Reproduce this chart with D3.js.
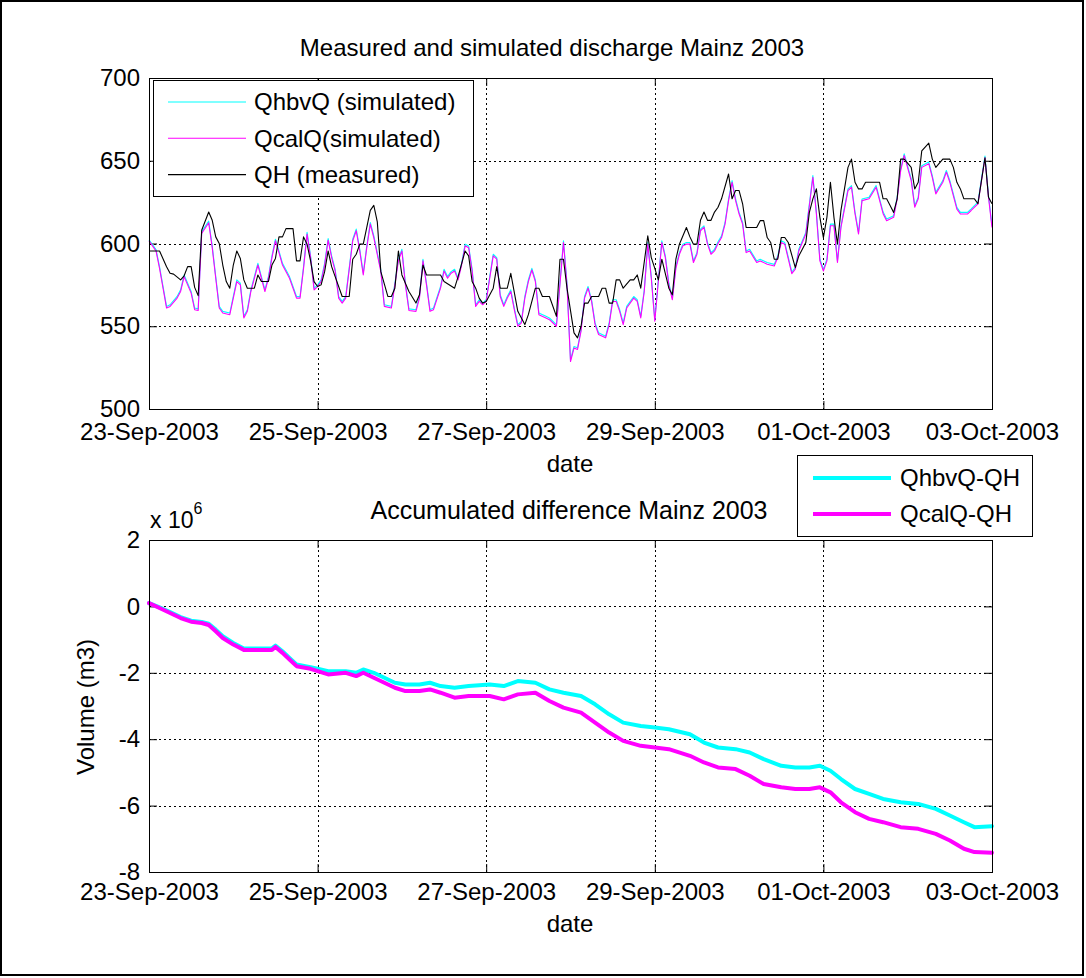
<!DOCTYPE html>
<html>
<head>
<meta charset="utf-8">
<script src="https://cdn.jsdelivr.net/npm/d3@7"></script>
<style>
  html, body { margin: 0; padding: 0; background: #fff; }
  svg text { font-family: "Liberation Sans", Arial, Helvetica, sans-serif; fill: #000; }
</style>
</head>
<body>
<svg id="fig" width="1086" height="978"></svg>
<script>
// ---- data: hours after 23-Sep-2003 00:00 and discharge (m3/s) ----
const qhHours = [0,3,5,6,7,9,10,11,12,13,14,15,17,18,19,20,21,22,23,24,25,26,27,28,30,31,32,34,35,36,37,38,39,41,42,43,44,45,46,47,48,49,50,51,52,53,55,57,58,59,60,61,62,63,64,65,66,68,69,70,71,72,74,76,77,78,79,83,84,87,88,90,91,92,93,94,95,96,98,99,100,102,103,105,107,108,110,111,112,114,116,117,118,119,121,122,123,124,125,126,128,129,130,131,132,133,134,135,137,138,139,140,142,143,144,145,146,148,149,150,151,153,154,155,156,157,158,159,160,161,162,163,165,166,167,168,169,170,173,174,175,176,177,178,179,180,181,182,184,185,187,188,189,190,191,192,193,194,195,196,197,199,200,201,202,203,204,208,209,210,211,212,213,214,215,217,218,219,220,222,223,224,226,228,229,230,231,232,235,236,237,238,239,240];
const qhValues = [595.5,595.5,586,582,581.5,578,580.5,586,586,573.5,568.5,608,619,614,604,600,587,577,573,587,595.5,591,578,573,573,581,577,577,587,591,604,604,609,609,589.5,589.5,604,599.6,589.5,577,574,575,583,595.5,586,580,568,568,590.5,593.5,599.6,599.6,609.7,620,623,613,583,568,568,573,595.5,581,571,564,569,587,581,581,577,573,580,595.5,592.5,577,573,567,564,565,573,586,573,573,582,559,551,557,573,573,568,568,556,590.5,590.5,573,546,543,550,564,564,568,568,573,573,564,564,578,578,573,578,578,581,573,604.7,591.5,585,578,590.5,573,569,590.5,599.6,609.7,604,599.6,599.6,614,619,614,614,619,621.9,627,642,627,632,632,624,609.7,609.7,613.8,613.8,603.6,600.6,590.5,590.5,603.6,603.6,600.6,585.4,592.5,600.6,618.8,627,633,615.8,603.6,615.8,637,615.8,599.6,620,646,651,637,633,633,637,637,627,627,623,618.8,627,651,651,646,633,637,656,660.7,651,646,651,651,646,637,633,627,627,624,638,651.8,628,624];

const simHours = [0,2,3,4,5,6,8,9,10,12,13,14,15,17,18,19,20,21,23,24,25,26,27,28,29,31,33,34,35,36,37,38,40,42,43,44,45,46,47,48,49,50,51,52,53,54,55,56,58,59,60,61,62,63,64,66,67,69,70,71,72,73,74,76,77,78,79,80,81,83,84,85,86,87,88,89,90,91,92,93,94,95,96,97,98,99,100,101,102,103,104,105,106,107,108,109,110,111,113,114,116,118,119,120,121,122,123,124,125,126,127,128,130,131,132,133,134,135,136,138,139,140,141,142,143,144,145,146,147,148,149,150,151,152,153,154,155,156,157,158,159,160,161,162,163,164,165,166,167,168,169,170,171,173,174,176,178,179,180,181,183,184,185,187,188,189,190,191,192,193,194,195,196,197,199,200,201,202,203,205,207,209,210,212,213,214,215,217,218,219,220,222,223,224,226,227,228,230,231,233,234,236,237,238,239,240];
const qhbvValues = [602.2,596.3,586,574,562,563,568,572,581,571,561,560.5,607,613.5,598.5,580,562,559,558,568,578,576,556,560,572,588,572,580,592.5,602.6,595.5,588,580,568,568,586,606.7,592.5,573,575,578,588,603,592.5,584.4,568,565,568,602.6,608.7,596.5,582,598.5,612.7,604.6,584,563,562,576,590.5,596.5,576,560.5,560,568,590.5,576,560,561,574,584.4,580,583,584.4,579,588,599.6,598.5,584.4,563,566,564,566,580,593.5,591.5,569,563,568,572,561,551,553,568,578,585,578,558,556,555,551,601.6,576,529.7,537.8,537,548,568,574,566,552,546,544,552,566,566,560,552,562,568,566,556,572,600.6,580,554,578,601.6,592.5,576,567,586,594.5,599.6,600.6,600.6,589.5,594.5,608.7,610.7,600.6,594.5,596.5,601,604.6,612.7,626.9,638,626.9,618.8,612.7,595.5,596.5,589.5,590.5,588.5,587.4,592.5,601.6,600.6,582.8,585.5,596.5,606.7,623.8,641,619,590.5,584.4,590.5,611.7,611.7,589.5,610.7,633,635,619,606.7,626.9,628,635,619,614.8,616.8,628,645,654.2,639,622.9,628,647,649.2,641,631,638,644.1,638,621.8,618.8,618.8,620.8,625,639,652.8,629,610.7];
const qcalValues = [601.6,595.5,585,573,561,562,567,571,580,570,560,559.5,606,612.5,597.5,579,561,558,557,567,577,575,555,559,571,587,571,579,591.5,601.6,594.5,587,579,567,567,585,605.7,591.5,572,574,577,587,602,591.5,583.4,567,564,567,601.6,607.7,595.5,581,597.5,611.7,603.6,583,562,561,575,589.5,595.5,575,559.5,559,567,589.5,575,559,560,573,583.4,579,582,583.4,578,587,598.6,597.5,583.4,562,565,563,565,579,592.5,590.5,568,562,567,571,560,550,552,567,577,584,577,557,555,554,550,600.6,575,528.7,536.8,536,547,567,573,565,551,545,543,551,565,565,559,551,561,567,565,555,571,599.6,579,553,577,600.6,591.5,575,566,585,593.5,598.6,599.6,599.6,588.5,593.5,607.7,609.7,599.6,593.5,595.5,600,603.6,611.7,625.9,637,625.9,617.8,611.7,594.5,595.5,588.5,589.5,587.5,586.4,591.5,600.6,599.6,581.8,584.5,595.5,605.7,622.8,640,618,589.5,583.4,589.5,610.7,610.7,588.5,609.7,632,634,618,605.7,625.9,627,634,618,613.8,615.8,627,644,653.2,638,621.9,627,646,648.2,640,630,637,643.1,637,620.8,617.8,617.8,619.8,624,638,651.8,628,609.7];

// accumulated volume difference, in units of 1e6 m3
const accHours = [0,3,6,9,12,15,17,19,21,24,27,31,35,36,38,40,42,46,48,51,56,59,61,64,67,70,73,77,80,83,87,91,97,101,105,110,114,118,123,127,131,135,140,144,148,154,158,162,167,171,175,180,184,188,191,194,197,201,205,209,214,219,224,228,232,235,240];
const accHbv = [0.1,-0.03,-0.17,-0.32,-0.43,-0.47,-0.52,-0.7,-0.9,-1.1,-1.27,-1.27,-1.26,-1.18,-1.35,-1.55,-1.75,-1.83,-1.88,-1.95,-1.95,-2.0,-1.9,-2.0,-2.15,-2.3,-2.35,-2.35,-2.3,-2.4,-2.45,-2.4,-2.35,-2.4,-2.25,-2.3,-2.5,-2.6,-2.7,-2.95,-3.25,-3.5,-3.6,-3.65,-3.7,-3.85,-4.1,-4.25,-4.3,-4.4,-4.6,-4.8,-4.85,-4.85,-4.8,-4.95,-5.2,-5.5,-5.65,-5.8,-5.9,-5.95,-6.1,-6.3,-6.5,-6.65,-6.62];
const accCal = [0.1,-0.05,-0.2,-0.35,-0.46,-0.5,-0.56,-0.75,-0.95,-1.15,-1.31,-1.31,-1.31,-1.22,-1.4,-1.6,-1.8,-1.88,-1.95,-2.05,-2.0,-2.1,-2.0,-2.15,-2.3,-2.45,-2.55,-2.55,-2.5,-2.6,-2.75,-2.7,-2.7,-2.8,-2.65,-2.6,-2.85,-3.05,-3.2,-3.5,-3.8,-4.05,-4.2,-4.25,-4.3,-4.5,-4.7,-4.85,-4.9,-5.1,-5.35,-5.45,-5.5,-5.5,-5.45,-5.6,-5.9,-6.2,-6.4,-6.5,-6.65,-6.7,-6.85,-7.05,-7.3,-7.4,-7.42];

// axis ticks and labels
const dateTickLabels = ["23-Sep-2003","25-Sep-2003","27-Sep-2003","29-Sep-2003","01-Oct-2003","03-Oct-2003"];
const dischargeTicks = [500,550,600,650,700];
const volumeTicks = [-8,-6,-4,-2,0,2];
const volumeTickLabels = ["-8","-6","-4","-2","0","2"];
const topSeriesNames = ["QhbvQ (simulated)","QcalQ(simulated)","QH (measured)"];
const bottomSeriesNames = ["QhbvQ-QH","QcalQ-QH"];
const seriesColors = ["#00ffff","#ff00ff","#000000"];

// ---- drawing ----
const FONT = 24;
const svg = d3.select("#fig");
const t0 = Date.UTC(2003, 8, 23);
const hourToDate = h => new Date(t0 + h * 3600e3);
const parseTick = d3.utcParse("%d-%b-%Y");
const fmtTick = d3.utcFormat("%d-%b-%Y");
const dateTicks = dateTickLabels.map(parseTick);

const left = 149, right = 992;
const x = d3.scaleUtc().domain([hourToDate(0), hourToDate(240)]).range([left, right]);
const yQ = d3.scaleLinear().domain([500, 700]).range([409, 78]);
const yV = d3.scaleLinear().domain([-8, 2]).range([872, 540]);

// figure frame
svg.append("rect").attr("x", 1).attr("y", 1).attr("width", 1082).attr("height", 974)
  .attr("fill", "#fff").attr("stroke", "#000").attr("stroke-width", 2);

function drawPanel(y, yTicks, yFmt, tickPad) {
  const [y0, y1] = y.range();
  const g = svg.append("g");
  // grid
  g.append("g").selectAll("line").data(dateTicks).join("line")
    .attr("x1", d => Math.round(x(d)) + 0.5).attr("x2", d => Math.round(x(d)) + 0.5)
    .attr("y1", y1).attr("y2", y0)
    .attr("stroke", "#000").attr("stroke-width", 1).attr("stroke-dasharray", "2,3");
  g.append("g").selectAll("line").data(yTicks).join("line")
    .attr("x1", left).attr("x2", right)
    .attr("y1", d => Math.round(y(d)) + 0.5).attr("y2", d => Math.round(y(d)) + 0.5)
    .attr("stroke", "#000").attr("stroke-width", 1).attr("stroke-dasharray", "2,3");

  const styleAxis = a => {
    a.attr("font-family", null).attr("font-size", FONT);
    a.select(".domain").remove();
    a.selectAll(".tick line").attr("stroke", "#000");
    a.selectAll(".tick text").attr("fill", "#000");
  };
  g.append("g").attr("transform", `translate(0,${y0})`)
    .call(d3.axisBottom(x).tickValues(dateTicks).tickFormat(fmtTick).tickSizeInner(-8).tickSizeOuter(0).tickPadding(tickPad))
    .call(styleAxis);
  g.append("g").attr("transform", `translate(0,${y1})`)
    .call(d3.axisTop(x).tickValues(dateTicks).tickFormat("").tickSizeInner(-8).tickSizeOuter(0))
    .call(styleAxis);
  g.append("g").attr("transform", `translate(${left},0)`)
    .call(d3.axisLeft(y).tickValues(yTicks).tickFormat(yFmt).tickSizeInner(-8).tickSizeOuter(0).tickPadding(9))
    .call(styleAxis);
  g.append("g").attr("transform", `translate(${right},0)`)
    .call(d3.axisRight(y).tickValues(yTicks).tickFormat("").tickSizeInner(-8).tickSizeOuter(0))
    .call(styleAxis);
  return g;
}

function drawBox(y) {
  const [y0, y1] = y.range();
  svg.append("rect").attr("x", left + 0.5).attr("y", y1 + 0.5)
    .attr("width", right - left).attr("height", y0 - y1)
    .attr("fill", "none").attr("stroke", "#000").attr("stroke-width", 1);
}

const valueLine = y => d3.line().x(d => x(hourToDate(d[0]))).y(d => y(d[1]));

// ---- upper panel: discharge ----
const topPanel = drawPanel(yQ, dischargeTicks, d => String(d), 14);
const topSeries = [
  d3.zip(simHours, qhbvValues),
  d3.zip(simHours, qcalValues),
  d3.zip(qhHours, qhValues)
];
topSeries.forEach((s, i) => {
  topPanel.append("path").datum(s).attr("d", valueLine(yQ))
    .attr("fill", "none").attr("stroke", seriesColors[i]).attr("stroke-width", 1.1)
    .attr("stroke-linejoin", "round");
});
drawBox(yQ);

svg.append("text").attr("x", 552).attr("y", 56).attr("text-anchor", "middle").attr("font-size", FONT)
  .text("Measured and simulated discharge Mainz 2003");
svg.append("text").attr("x", 570).attr("y", 472).attr("text-anchor", "middle").attr("font-size", FONT)
  .text("date");

// legend (upper)
const lg1 = svg.append("g");
lg1.append("rect").attr("x", 153.5).attr("y", 80.5).attr("width", 320).attr("height", 116)
  .attr("fill", "#fff").attr("stroke", "#000");
topSeriesNames.forEach((name, i) => {
  const yy = 102 + i * 36.3;
  lg1.append("line").attr("x1", 168).attr("x2", 246).attr("y1", yy).attr("y2", yy)
    .attr("stroke", seriesColors[i]).attr("stroke-width", 1.1);
  lg1.append("text").attr("x", 254).attr("y", yy).attr("dy", "0.35em").attr("font-size", FONT).text(name);
});

// ---- lower panel: accumulated difference ----
const botPanel = drawPanel(yV, volumeTicks, (d, i) => volumeTickLabels[i], 11);
[d3.zip(accHours, accHbv), d3.zip(accHours, accCal)].forEach((s, i) => {
  botPanel.append("path").datum(s).attr("d", valueLine(yV))
    .attr("fill", "none").attr("stroke", seriesColors[i]).attr("stroke-width", 4)
    .attr("stroke-linejoin", "round").attr("stroke-linecap", "round");
});
drawBox(yV);

svg.append("text").attr("x", 569).attr("y", 519).attr("text-anchor", "middle").attr("font-size", 25)
  .text("Accumulated difference Mainz 2003");
const expo = svg.append("text").attr("x", 150).attr("y", 528).attr("font-size", 23);
expo.append("tspan").text("x 10");
expo.append("tspan").attr("dy", -14).attr("font-size", 16).text("6");
svg.append("text").attr("x", 570).attr("y", 932).attr("text-anchor", "middle").attr("font-size", FONT)
  .text("date");
svg.append("text").attr("transform", "translate(94,707) rotate(-90)").attr("text-anchor", "middle")
  .attr("font-size", FONT).text("Volume (m3)");

// legend (lower)
const lg2 = svg.append("g");
lg2.append("rect").attr("x", 797.5).attr("y", 455.5).attr("width", 235).attr("height", 81)
  .attr("fill", "#fff").attr("stroke", "#000");
bottomSeriesNames.forEach((name, i) => {
  const yy = 478 + i * 36;
  lg2.append("line").attr("x1", 813).attr("x2", 891).attr("y1", yy).attr("y2", yy)
    .attr("stroke", seriesColors[i]).attr("stroke-width", 4);
  lg2.append("text").attr("x", 900).attr("y", yy).attr("dy", "0.35em").attr("font-size", FONT).text(name);
});
</script>
</body>
</html>
